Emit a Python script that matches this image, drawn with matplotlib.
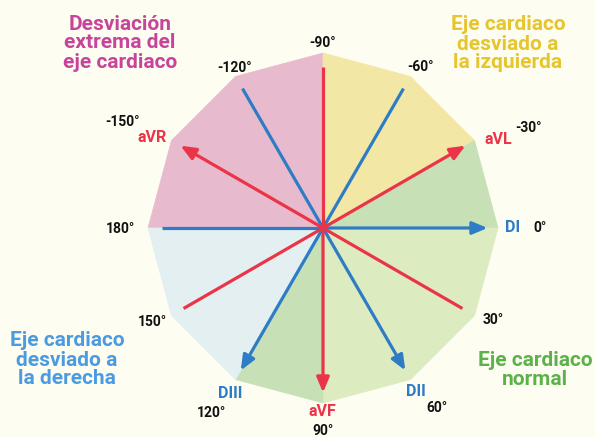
import numpy as np
import matplotlib.pyplot as plt
from matplotlib.patches import Polygon

plt.rcParams['font.family'] = ['Roboto', 'DejaVu Sans']

# sectors of the hexaxial reference (start angle, end angle, colour), screen angles in degrees
sector_start = [-180, -90, -30, 0, 90, 120]
sector_end = [-90, -30, 0, 90, 120, 180]
sector_colors = ['#e8bace', '#f3e7a6', '#c7e0b6', '#dcebc0', '#c7e0b6', '#e3eff0']

# leads: name, angle of positive pole, colour
lead_names = ['DI', 'DII', 'DIII', 'aVR', 'aVL', 'aVF']
lead_angles = [0, 60, 120, -150, -30, 90]
lead_colors = ['#2f7cc6', '#2f7cc6', '#2f7cc6', '#ec3448', '#ec3448', '#ec3448']

angle_labels = [-150, -120, -90, -60, -30, 0, 30, 60, 90, 120, 150, 180]

BG = '#fefdf2'
R = 1.0
L = 0.94

fig = plt.figure(figsize=(5.95, 4.37), dpi=100, facecolor=BG)
ax = fig.add_axes([0, 0, 1, 1])
ax.set_facecolor(BG)
# pixel mapping: centre at (323, 228), radius 175 px
s = 175.0
ax.set_xlim(-323 / s, (595 - 323) / s)
ax.set_ylim(-(437 - 228) / s, 228 / s)
ax.axis('off')


def pt(a, r=R):
    t = np.deg2rad(a)
    return r * np.cos(t), -r * np.sin(t)


for a0, a1, c in zip(sector_start, sector_end, sector_colors):
    angs = np.arange(a0, a1 + 1, 30)
    verts = [(0, 0)] + [pt(a) for a in angs]
    ax.add_patch(Polygon(verts, closed=True, facecolor=c, edgecolor=c, lw=0.5, zorder=1))

# blue leads first, red on top
for a, c in zip(lead_angles, lead_colors):
    z = 3 if c == '#ec3448' else 2
    x0, y0 = pt(a + 180, L - 0.02)
    ax.plot([0, x0], [0, y0], color=c, lw=2.3, solid_capstyle='butt', zorder=z)
    x1, y1 = pt(a, L)
    ax.annotate('', xy=(x1, y1), xytext=(0, 0),
                arrowprops=dict(arrowstyle='-|>,head_length=0.9,head_width=0.38',
                                color=c, lw=2.3, shrinkA=0, shrinkB=0), zorder=z)

# lead labels (pixel positions)
lead_label_px = {'DI': (513, 228), 'DII': (416, 392), 'DIII': (230, 394),
                 'aVR': (152, 138), 'aVL': (498, 140), 'aVF': (322, 412)}
for name, c in zip(lead_names, lead_colors):
    px, py = lead_label_px[name]
    ax.text((px - 323) / s, (228 - py) / s, name, color=c, fontsize=11.5,
            fontweight='bold', ha='center', va='center', zorder=5)

angle_label_px = {-150: (123, 122), -120: (235, 68), -90: (323, 43), -60: (420, 67),
                  -30: (528, 128), 0: (540, 228), 30: (493, 320), 60: (437, 408),
                  90: (323, 431), 120: (211, 413), 150: (152, 322), 180: (120, 229)}
for a in angle_labels:
    px, py = angle_label_px[a]
    ax.text((px - 323) / s, (228 - py) / s, f'{a}°', color='#111111', fontsize=10,
            fontweight='bold', ha='center', va='center', zorder=5)

titles = ['Desviación\nextrema del\neje cardiaco', 'Eje cardiaco\ndesviado a\nla izquierda',
          'Eje cardiaco\ndesviado a\nla derecha', 'Eje cardiaco\nnormal']
title_px = [(120, 43), (508, 44), (67, 360), (535, 370)]
title_colors = ['#c7449b', '#e7c52c', '#4b9be0', '#5db14b']
for t, (px, py), c in zip(titles, title_px, title_colors):
    ax.text((px - 323) / s, (228 - py) / s, t, color=c, fontsize=15,
            fontweight='bold', ha='center', va='center', linespacing=1.0, zorder=5)

fig.savefig('out.png', dpi=100, facecolor=BG)
